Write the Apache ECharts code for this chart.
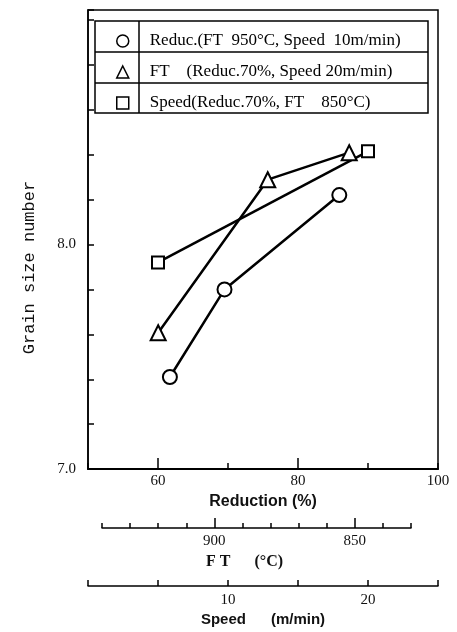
<!DOCTYPE html>
<html>
<head>
<meta charset="utf-8">
<script src="https://cdn.jsdelivr.net/npm/echarts@6/dist/echarts.min.js"></script>
<style>
  html, body { margin: 0; padding: 0; background: #fff; }
  #chart { width: 457px; height: 632px; }
</style>
</head>
<body>
<div id="chart"></div>
<script>
// values
const reducName = 'Reduc.(FT  950°C, Speed  10m/min)';
const ftName = 'FT    (Reduc.70%, Speed 20m/min)';
const speedName = 'Speed(Reduc.70%, FT    850°C)';

const reductionX = [61.7, 69.5, 85.9];
const reductionGs = [7.41, 7.80, 8.22];
const ftX = [920, 881, 852];
const ftGs = [7.61, 8.29, 8.41];
const speedX = [5, 20];
const speedGs = [7.92, 8.415];

// tick labels
const gsTicks = [7.0, 8.0];
const reductionTicks = [60, 80, 100];
const ftTicks = [900, 850];
const speedTicks = [10, 20];

const serif = 'Liberation Serif';
const lineColor = '#000';

const pick = (list, digits) => v => {
  for (const t of list) {
    if (Math.abs(v - t) < 1e-6) return digits ? t.toFixed(digits) : String(t);
  }
  return '';
};

const tickLabel = { fontFamily: serif, fontSize: 15, color: '#111' };

const chart = echarts.init(document.getElementById('chart'), null, { renderer: 'canvas' });

const option = {
  backgroundColor: '#fff',
  animation: false,
  grid: [
    { left: 88, right: 19, top: 10, bottom: 162, show: true, borderColor: lineColor, borderWidth: 1.5 },
    { left: 102, right: 46, top: 10, bottom: 162, show: false }
  ],
  legend: {
    orient: 'vertical',
    left: 111,
    top: 27,
    itemWidth: 12,
    itemHeight: 12,
    itemGap: 13,
    selectedMode: false,
    data: [
      { name: reducName, icon: 'circle' },
      { name: ftName, icon: 'triangle' },
      { name: speedName, icon: 'rect' }
    ],
    itemStyle: { color: '#fff', borderColor: lineColor, borderWidth: 1.5 },
    textStyle: { fontFamily: serif, fontSize: 17, lineHeight: 18, color: '#000', padding: [0, 0, 0, 16] }
  },
  graphic: [
    { type: 'rect', z: 3, shape: { x: 95, y: 21, width: 333, height: 92 },
      style: { fill: '#fff', stroke: lineColor, lineWidth: 1.5 } },
    { type: 'line', z: 3, shape: { x1: 95, y1: 52, x2: 428, y2: 52 }, style: { stroke: lineColor, lineWidth: 1.5 } },
    { type: 'line', z: 3, shape: { x1: 95, y1: 83, x2: 428, y2: 83 }, style: { stroke: lineColor, lineWidth: 1.5 } },
    { type: 'line', z: 3, shape: { x1: 139, y1: 21, x2: 139, y2: 113 }, style: { stroke: lineColor, lineWidth: 1.5 } }
  ],
  xAxis: [
    {
      // 0: Reduction
      type: 'value', gridIndex: 0, position: 'bottom',
      min: 50, max: 100, interval: 10,
      name: 'Reduction (%)', nameLocation: 'middle', nameGap: 24,
      nameTextStyle: { fontFamily: 'Liberation Sans', fontWeight: 'bold', fontSize: 16, color: '#111' },
      axisLine: { lineStyle: { color: lineColor, width: 2 } },
      axisTick: { inside: true, length: 6, lineStyle: { color: lineColor, width: 1.5 } },
      axisLabel: Object.assign({ margin: 4, formatter: pick(reductionTicks) }, tickLabel),
      splitLine: { show: false }
    },
    {
      // 1: Speed
      type: 'value', gridIndex: 0, position: 'bottom', offset: 117,
      min: 0, max: 25, interval: 5,
      name: 'Speed      (m/min)', nameLocation: 'middle', nameGap: 25,
      nameTextStyle: { fontFamily: 'Liberation Sans', fontWeight: 'bold', fontSize: 15, color: '#111' },
      axisLine: { lineStyle: { color: lineColor, width: 1.5 } },
      axisTick: { inside: true, length: 6, lineStyle: { color: lineColor, width: 1.5 } },
      axisLabel: Object.assign({ margin: 6, formatter: pick(speedTicks) }, tickLabel),
      splitLine: { show: false }
    },
    {
      // 2: FT
      type: 'value', gridIndex: 1, position: 'bottom', offset: 58,
      min: 830, max: 940, interval: 10, inverse: true,
      name: 'F T      (°C)', nameLocation: 'middle', nameGap: 24,
      nameTextStyle: { fontFamily: serif, fontWeight: 'bold', fontSize: 16, color: '#111', padding: [0, 24, 0, 0] },
      axisLine: { lineStyle: { color: lineColor, width: 1.5 } },
      axisTick: { inside: true, length: 5, lineStyle: { color: lineColor, width: 1.5 } },
      axisLabel: Object.assign({ margin: 6, formatter: pick(ftTicks) }, tickLabel),
      splitLine: { show: false }
    },
    {
      // 3: long ticks on Reduction
      type: 'value', gridIndex: 0, position: 'bottom',
      min: 50, max: 100, interval: 10,
      axisLine: { show: false },
      axisTick: { inside: true, length: 11, customValues: [60, 80], lineStyle: { color: lineColor, width: 1.5 } },
      axisLabel: { show: false },
      splitLine: { show: false }
    },
    {
      // 4: long ticks on FT
      type: 'value', gridIndex: 1, position: 'bottom', offset: 58,
      min: 830, max: 940, interval: 10, inverse: true,
      axisLine: { show: false },
      axisTick: { inside: true, length: 10, customValues: ftTicks, lineStyle: { color: lineColor, width: 1.5 } },
      axisLabel: { show: false },
      splitLine: { show: false }
    }
  ],
  yAxis: [
    {
      type: 'value', gridIndex: 0,
      min: 7.0, max: 9.044, interval: 0.2,
      name: 'Grain size number', nameLocation: 'middle', nameGap: 50, nameRotate: 90,
      nameTextStyle: { fontFamily: 'Liberation Mono', fontSize: 17, color: '#111', padding: [0, 56, 0, 0] },
      axisLine: { show: true, lineStyle: { color: lineColor, width: 1.5 } },
      axisTick: { inside: true, length: 6, lineStyle: { color: lineColor, width: 1.5 } },
      axisLabel: Object.assign({ margin: 12, formatter: pick(gsTicks, 1) }, tickLabel),
      splitLine: { show: false }
    },
    {
      type: 'value', gridIndex: 1, show: false,
      min: 7.0, max: 9.044
    }
  ],
  series: [
    {
      name: reducName, type: 'line', xAxisIndex: 0, yAxisIndex: 0,
      data: reductionX.map((x, i) => [x, reductionGs[i]]),
      symbol: 'circle', symbolSize: 14,
      itemStyle: { color: '#fff', borderColor: lineColor, borderWidth: 2 },
      lineStyle: { color: lineColor, width: 2.5 }
    },
    {
      name: ftName, type: 'line', xAxisIndex: 2, yAxisIndex: 1,
      data: ftX.map((x, i) => [x, ftGs[i]]),
      symbol: 'triangle', symbolSize: 15,
      itemStyle: { color: '#fff', borderColor: lineColor, borderWidth: 2 },
      lineStyle: { color: lineColor, width: 2.5 }
    },
    {
      name: speedName, type: 'line', xAxisIndex: 1, yAxisIndex: 0,
      data: speedX.map((x, i) => [x, speedGs[i]]),
      symbol: 'rect', symbolSize: 12,
      itemStyle: { color: '#fff', borderColor: lineColor, borderWidth: 2 },
      lineStyle: { color: lineColor, width: 2.5 }
    }
  ]
};

chart.setOption(option);
</script>
</body>
</html>
